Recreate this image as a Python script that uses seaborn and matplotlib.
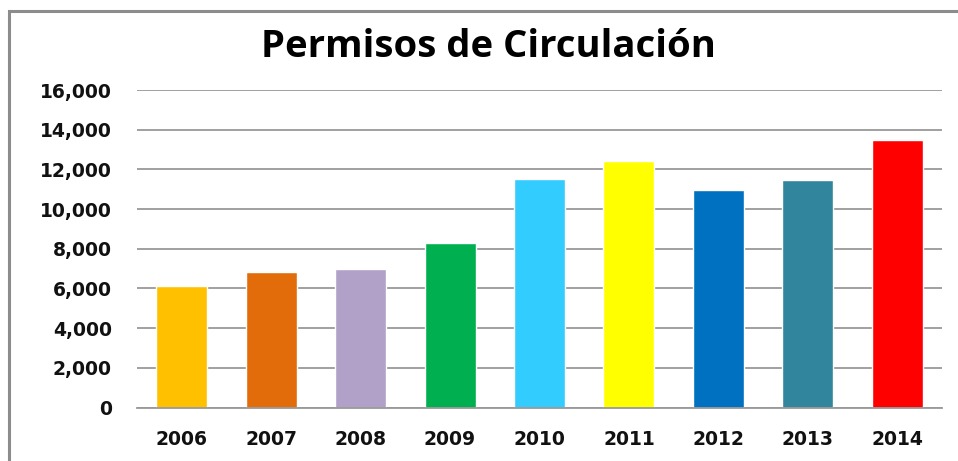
import matplotlib
matplotlib.use("Agg")
import matplotlib.pyplot as plt
import seaborn as sns
import pandas as pd
from matplotlib.patches import Rectangle
from matplotlib.ticker import FuncFormatter

years = ["2006", "2007", "2008", "2009", "2010", "2011", "2012", "2013", "2014"]
permisos = [6100, 6840, 6980, 8300, 11490, 12410, 10980, 11440, 13470]
colors = ["#FFC000", "#E36C0A", "#B1A0C7", "#00B050", "#33CCFF",
          "#FFFF00", "#0070C0", "#31859C", "#FF0000"]
title = "Permisos de Circulación"

df = pd.DataFrame({"year": years, "value": permisos})

sns.set_theme(style="white")
plt.rcParams["font.family"] = ["DejaVu Sans"]

fig = plt.figure(figsize=(9.58, 4.61), dpi=100)
ax = fig.add_axes([137/958, 1-407.5/461, (942-137)/958, (407.5-90)/461])

sns.barplot(data=df, x="year", y="value", hue="year", palette=colors,
            legend=False, width=0.57, ax=ax, saturation=1)

ax.set_ylim(0, 16000)
ax.set_xlim(-0.5, 8.5)
ax.set_yticks(range(0, 16001, 2000))
ax.yaxis.set_major_formatter(FuncFormatter(lambda v, p: f"{int(v):,}"))
ax.grid(axis="y", color="#999999", linewidth=1.3)
ax.set_axisbelow(True)
for s in ["top", "right", "left"]:
    ax.spines[s].set_visible(False)
ax.spines["bottom"].set_color("#999999")
ax.spines["bottom"].set_linewidth(1.3)
ax.set_xlabel("")
ax.set_ylabel("")
ax.tick_params(axis="y", length=0, pad=18, labelsize=13.5)
ax.tick_params(axis="x", length=0, pad=16, labelsize=13.5)
for lab in ax.get_xticklabels() + ax.get_yticklabels():
    lab.set_fontweight("bold")
    lab.set_color("#111111")

fig.text(488/958, 1-47/461, title, ha="center", va="center",
         fontsize=27.5, fontweight="bold", family=["Open Sans", "DejaVu Sans"],
         color="black")

# figure frame (top and left visible, others run off the image)
fig.patches.append(Rectangle((9/958, -0.2), 1.2, 1.2 - 10.5/461,
                             transform=fig.transFigure, fill=False,
                             edgecolor="#8c8c8c", linewidth=2.2))

fig.savefig("out.png", dpi=100)
